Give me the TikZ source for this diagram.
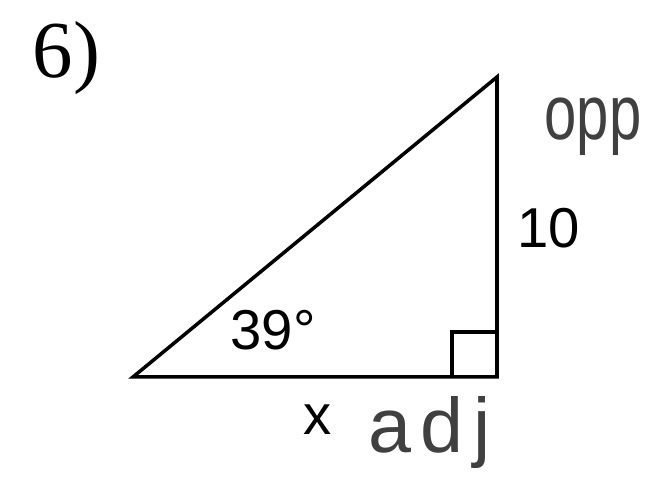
\documentclass[tikz,border=0pt]{standalone}
\usepackage{fontspec}
\setmainfont{Liberation Sans}
\newfontfamily\serifnum{Liberation Serif}
\usetikzlibrary{positioning}

\begin{document}
\begin{tikzpicture}[
  side/.style={line width=1pt, line join=miter},
  lb/.style={font=\fontsize{16}{18}\selectfont, inner sep=0pt},
  hand/.style={font=\fontsize{22}{24}\selectfont, text=black!75, inner sep=0pt},
]
\useasboundingbox (0,0) rectangle (6.49,4.80);
% problem number
\node[inner sep=0pt, anchor=base west, font=\serifnum\fontsize{23}{26}\selectfont] (num) at (0.32,4.02) {6)};
% triangle
\coordinate (A) at (1.33,1.03);
\coordinate (B) at (4.97,1.03);
\coordinate (C) at (4.97,4.03);
\draw[side] (A) -- (B) -- (C) -- cycle;
% right angle mark
\draw[side] ([xshift=-0.45cm]B) |- ([yshift=0.45cm]B);
% labels
\node[lb, anchor=base west] (opp10) at (5.17,2.32) {10};
\node[lb, anchor=base west] (ang) at (2.30,1.30) {39°};
\node[lb, anchor=base west] (xlab) at (3.03,0.45) {x};
% handwritten notes
\node[hand, anchor=base west, xscale=0.75, transform shape] (opp) at (5.44,3.40) {opp};
\node[hand, anchor=base west] (adj) at (3.68,0.27) {\addfontfeatures{LetterSpace=12}adj};
\end{tikzpicture}
\end{document}
